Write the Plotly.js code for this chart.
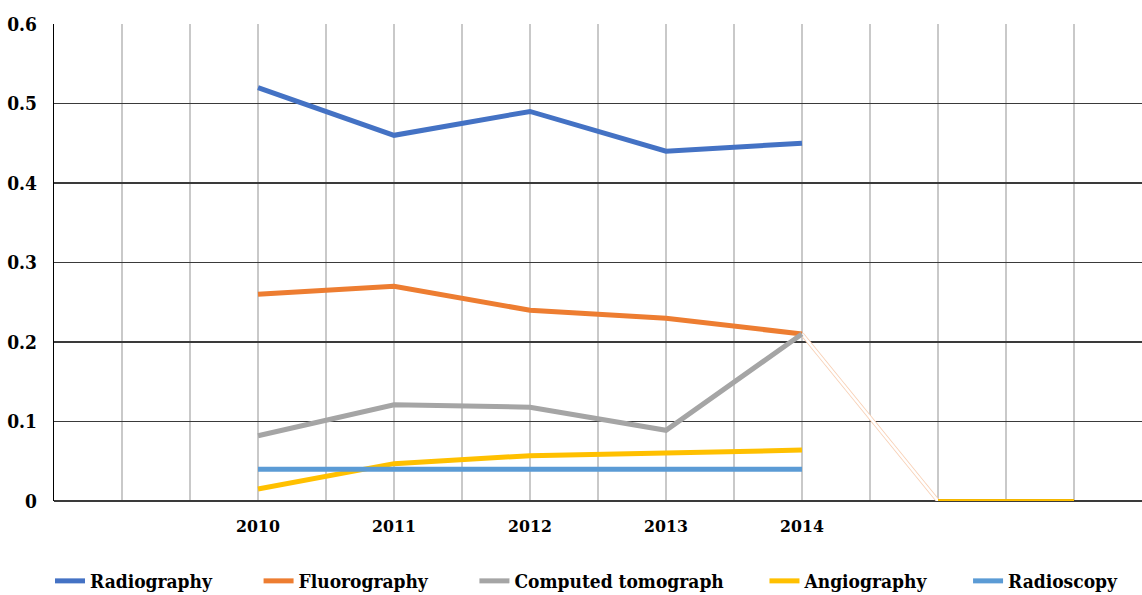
<!DOCTYPE html>
<html>
<head>
<meta charset="utf-8">
<script src="https://cdn.plot.ly/plotly-3.0.1.min.js"></script>
<style>html,body{margin:0;padding:0;background:#fff;}#chart{width:1142px;height:595px;}</style>
</head>
<body>
<div id="chart"></div>
<script>
const categories = ["", "2010", "2011", "2012", "2013", "2014", "", ""];
const seriesNames = ["Radiography", "Fluorography", "Computed tomograph", "Angiography", "Radioscopy"];
const radiography = [null, 0.52, 0.46, 0.49, 0.44, 0.45, null, null];
const fluorography = [null, 0.26, 0.27, 0.24, 0.23, 0.21, null, null];
const computedTomograph = [null, 0.082, 0.121, 0.118, 0.089, 0.21, null, null];
const angiography = [null, 0.015, 0.047, 0.057, 0.06, 0.064, null, null];
const radioscopy = [null, 0.04, 0.04, 0.04, 0.04, 0.04, null, null];
const tailValues = [null, null, null, null, null, 0.21, 0, null];
const angiographyTail = [null, null, null, null, null, null, 0, 0];

const xIdx = categories.map((c, i) => i);
const yearIdx = xIdx.filter(i => categories[i] !== "");
const yearText = yearIdx.map(i => categories[i]);

const FAM = "DejaVu Serif Condensed";
const pad = n => "\u00a0".repeat(n);

function line(name, y, color, width, extra) {
  return Object.assign({
    type: "scatter", mode: "lines", name: name, x: xIdx, y: y,
    line: {color: color, width: width}, connectgaps: false, hoverinfo: "skip"
  }, extra || {});
}

const traces = [
  line("tail-o", tailValues, "#f8cdb0", 4, {showlegend: false}),
  line("tail-w", tailValues, "#ffffff", 2.5, {showlegend: false}),
  line("angio-tail-o", angiographyTail, "#f0b400", 4, {showlegend: false}),
  line("angio-tail", angiographyTail, "#FFC000", 2.5, {showlegend: false}),
  line(seriesNames[0] + pad(7), radiography, "#4472C4", 5),
  line(seriesNames[1] + pad(7), fluorography, "#ED7D31", 5),
  line(seriesNames[2] + pad(6), computedTomograph, "#A5A5A5", 5),
  line(seriesNames[3] + pad(6), angiography, "#FFC000", 5),
  line(seriesNames[4], radioscopy, "#5B9BD5", 5)
];

const layout = {
  width: 1142, height: 595,
  margin: {l: 54, r: 0, t: 24, b: 94, autoexpand: false},
  paper_bgcolor: "#fff", plot_bgcolor: "#fff",
  showlegend: true,
  legend: {
    orientation: "h", xref: "container", yref: "container",
    x: 0.0438, xanchor: "left", y: 0.0235, yanchor: "middle",
    font: {family: FAM, size: 19, weight: "bold", color: "#000"},
    tracegroupgap: 0
  },
  xaxis: {
    range: [-0.5, 7.5], tickmode: "array", tickvals: yearIdx, ticktext: yearText,
    showgrid: true, gridcolor: "#c9c9c9", gridwidth: 1.5,
    minor: {tickmode: "linear", tick0: 0, dtick: 0.5, showgrid: true, gridcolor: "#c9c9c9", gridwidth: 1.5, ticklen: 0},
    zeroline: false, showline: false, ticks: "",
    tickfont: {family: FAM, size: 17.5, weight: "bold", color: "#000"},
    ticklabelstandoff: 12, fixedrange: true
  },
  yaxis: {
    range: [0, 0.6], dtick: 0.1, tick0: 0,
    showgrid: true, gridcolor: "#3a3a3a", gridwidth: 1.3,
    zeroline: true, zerolinecolor: "#3a3a3a", zerolinewidth: 1.3,
    showline: true, linecolor: "#000", linewidth: 1.3,
    ticks: "",
    tickfont: {family: FAM, size: 19, weight: "bold", color: "#000"},
    ticklabelstandoff: 12, fixedrange: true
  }
};

Plotly.newPlot("chart", traces, layout, {displayModeBar: false, staticPlot: true});
</script>
</body>
</html>
